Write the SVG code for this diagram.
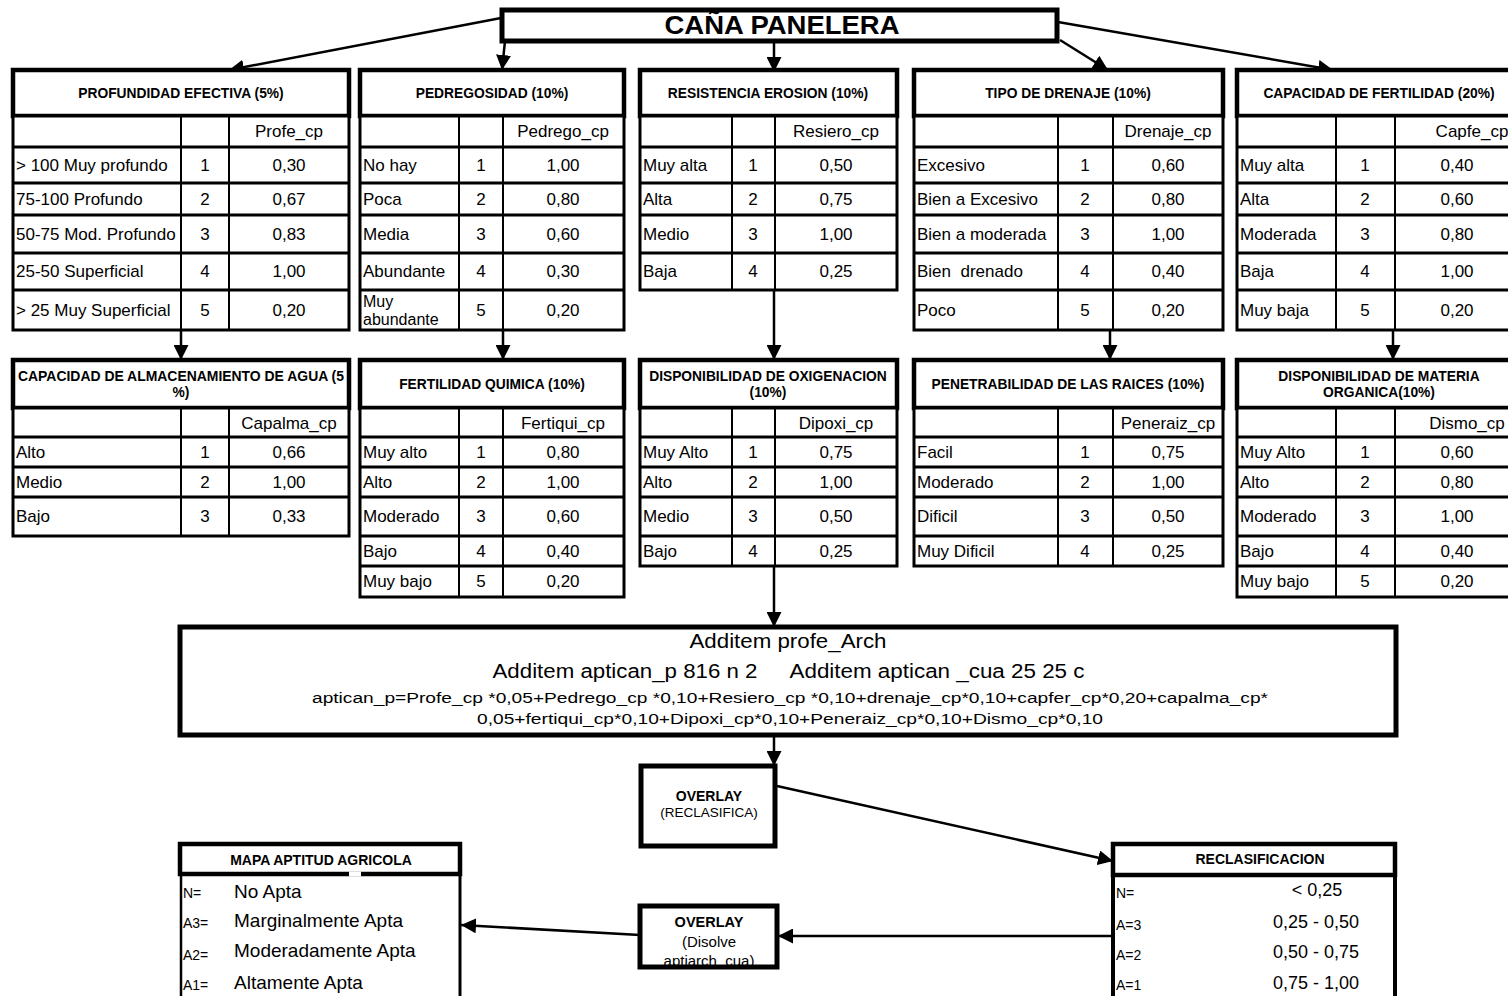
<svg xmlns="http://www.w3.org/2000/svg" width="1508" height="996" viewBox="0 0 1508 996">
<defs>
<marker id="ah" viewBox="0 0 10 10" refX="10" refY="5" markerWidth="6" markerHeight="6" markerUnits="strokeWidth" orient="auto"><path d="M0,0L10,5L0,10z" fill="#000"/></marker>
<style>
text{font-family:"Liberation Sans",Arial,sans-serif;fill:#000}
.hb{fill:#fff;stroke:#000;stroke-width:4.5}
.bd{fill:#fff;stroke:#000;stroke-width:3}
.rl{stroke:#000;stroke-width:3;fill:none}
.cl{stroke:#000;stroke-width:2;fill:none}
.h{font-size:13.8px;font-weight:bold;text-anchor:middle}
.t{font-size:17px}
.m{text-anchor:middle}
.s{font-size:14px}
.v{font-size:19px}
.r{font-size:18px;text-anchor:middle}
.conn path{stroke:#000;stroke-width:2.5;fill:none;marker-end:url(#ah)}
</style>
</defs>
<rect width="1508" height="996" fill="#fff"/>

<g id="connectors" class="conn">
<path d="M501,18L229,70"/>
<path d="M505,41L502,70"/>
<path d="M774,41L774,72"/>
<path d="M1060,40L1108,70"/>
<path d="M1058,22L1333,70"/>
<path d="M181,330L181,360"/>
<path d="M503,330L503,360"/>
<path d="M774,290L774,360"/>
<path d="M1110,330L1110,360"/>
<path d="M1393,330L1393,360"/>
<path d="M774,567L774,627"/>
<path d="M774,737L774,766"/>
<path d="M777,786L1113,861"/>
<path d="M1112,936L778,936"/>
<path d="M640,935L461,925"/>
</g>

<g id="cana-panelera">
<rect x="502" y="10" width="555" height="31" fill="#fff" stroke="#000" stroke-width="5"/>
<text x="782" y="34" font-size="25" font-weight="bold" text-anchor="middle" textLength="235" lengthAdjust="spacingAndGlyphs">CAÑA PANELERA</text>
</g>

<g id="profundidad">
<rect class="hb" x="13" y="70" width="336" height="46"/>
<rect class="bd" x="13" y="116" width="336" height="214"/>
<path class="rl" d="M13,147H349M13,183H349M13,215H349M13,253H349M13,290H349"/>
<path class="cl" d="M181,116V330M229,116V330"/>
<text class="h" x="181" y="98">PROFUNDIDAD EFECTIVA (5%)</text>
<g class="t">
<text class="m" x="289" y="137">Profe_cp</text>
<text x="16" y="171">&gt; 100 Muy profundo</text><text class="m" x="205" y="171">1</text><text class="m" x="289" y="171">0,30</text>
<text x="16" y="205">75-100 Profundo</text><text class="m" x="205" y="205">2</text><text class="m" x="289" y="205">0,67</text>
<text x="16" y="240">50-75 Mod. Profundo</text><text class="m" x="205" y="240">3</text><text class="m" x="289" y="240">0,83</text>
<text x="16" y="277">25-50 Superficial</text><text class="m" x="205" y="277">4</text><text class="m" x="289" y="277">1,00</text>
<text x="16" y="316">&gt; 25 Muy Superficial</text><text class="m" x="205" y="316">5</text><text class="m" x="289" y="316">0,20</text>
</g>
</g>

<g id="pedregosidad">
<rect class="hb" x="360" y="70" width="264" height="46"/>
<rect class="bd" x="360" y="116" width="264" height="214"/>
<path class="rl" d="M360,147H624M360,183H624M360,215H624M360,253H624M360,290H624"/>
<path class="cl" d="M459,116V330M503,116V330"/>
<text class="h" x="492" y="98">PEDREGOSIDAD (10%)</text>
<g class="t">
<text class="m" x="563" y="137">Pedrego_cp</text>
<text x="363" y="171">No hay</text><text class="m" x="481" y="171">1</text><text class="m" x="563" y="171">1,00</text>
<text x="363" y="205">Poca</text><text class="m" x="481" y="205">2</text><text class="m" x="563" y="205">0,80</text>
<text x="363" y="240">Media</text><text class="m" x="481" y="240">3</text><text class="m" x="563" y="240">0,60</text>
<text x="363" y="277">Abundante</text><text class="m" x="481" y="277">4</text><text class="m" x="563" y="277">0,30</text>
<text x="363" y="307" font-size="16">Muy</text><text x="363" y="325" font-size="16">abundante</text><text class="m" x="481" y="316">5</text><text class="m" x="563" y="316">0,20</text>
</g>
</g>

<g id="resistencia-erosion">
<rect class="hb" x="640" y="70" width="257" height="46"/>
<rect class="bd" x="640" y="116" width="257" height="174"/>
<path class="rl" d="M640,147H897M640,183H897M640,215H897M640,253H897"/>
<path class="cl" d="M732,116V290M775,116V290"/>
<text class="h" x="768" y="98">RESISTENCIA EROSION (10%)</text>
<g class="t">
<text class="m" x="836" y="137">Resiero_cp</text>
<text x="643" y="171">Muy alta</text><text class="m" x="753" y="171">1</text><text class="m" x="836" y="171">0,50</text>
<text x="643" y="205">Alta</text><text class="m" x="753" y="205">2</text><text class="m" x="836" y="205">0,75</text>
<text x="643" y="240">Medio</text><text class="m" x="753" y="240">3</text><text class="m" x="836" y="240">1,00</text>
<text x="643" y="277">Baja</text><text class="m" x="753" y="277">4</text><text class="m" x="836" y="277">0,25</text>
</g>
</g>

<g id="tipo-drenaje">
<rect class="hb" x="914" y="70" width="309" height="46"/>
<rect class="bd" x="914" y="116" width="309" height="214"/>
<path class="rl" d="M914,147H1223M914,183H1223M914,215H1223M914,253H1223M914,290H1223"/>
<path class="cl" d="M1058,116V330M1113,116V330"/>
<text class="h" x="1068" y="98">TIPO DE DRENAJE (10%)</text>
<g class="t">
<text class="m" x="1168" y="137">Drenaje_cp</text>
<text x="917" y="171">Excesivo</text><text class="m" x="1085" y="171">1</text><text class="m" x="1168" y="171">0,60</text>
<text x="917" y="205">Bien a Excesivo</text><text class="m" x="1085" y="205">2</text><text class="m" x="1168" y="205">0,80</text>
<text x="917" y="240">Bien a moderada</text><text class="m" x="1085" y="240">3</text><text class="m" x="1168" y="240">1,00</text>
<text x="917" y="277" style="white-space:pre">Bien  drenado</text><text class="m" x="1085" y="277">4</text><text class="m" x="1168" y="277">0,40</text>
<text x="917" y="316">Poco</text><text class="m" x="1085" y="316">5</text><text class="m" x="1168" y="316">0,20</text>
</g>
</g>

<g id="capacidad-fertilidad">
<rect class="hb" x="1237" y="70" width="283" height="46"/>
<rect class="bd" x="1237" y="116" width="283" height="214"/>
<path class="rl" d="M1237,147H1520M1237,183H1520M1237,215H1520M1237,253H1520M1237,290H1520"/>
<path class="cl" d="M1336,116V330M1395,116V330"/>
<text class="h" x="1379" y="98">CAPACIDAD DE FERTILIDAD (20%)</text>
<g class="t">
<text class="m" x="1472" y="137">Capfe_cp</text>
<text x="1240" y="171">Muy alta</text><text class="m" x="1365" y="171">1</text><text class="m" x="1457" y="171">0,40</text>
<text x="1240" y="205">Alta</text><text class="m" x="1365" y="205">2</text><text class="m" x="1457" y="205">0,60</text>
<text x="1240" y="240">Moderada</text><text class="m" x="1365" y="240">3</text><text class="m" x="1457" y="240">0,80</text>
<text x="1240" y="277">Baja</text><text class="m" x="1365" y="277">4</text><text class="m" x="1457" y="277">1,00</text>
<text x="1240" y="316">Muy baja</text><text class="m" x="1365" y="316">5</text><text class="m" x="1457" y="316">0,20</text>
</g>
</g>

<g id="almacenamiento-agua">
<rect class="hb" x="13" y="360" width="336" height="48"/>
<rect class="bd" x="13" y="408" width="336" height="128"/>
<path class="rl" d="M13,437H349M13,467H349M13,497H349"/>
<path class="cl" d="M181,408V536M229,408V536"/>
<text class="h" x="181" y="381" textLength="326" lengthAdjust="spacingAndGlyphs">CAPACIDAD DE ALMACENAMIENTO DE AGUA (5</text>
<text class="h" x="181" y="397">%)</text>
<g class="t">
<text class="m" x="289" y="429">Capalma_cp</text>
<text x="16" y="458">Alto</text><text class="m" x="205" y="458">1</text><text class="m" x="289" y="458">0,66</text>
<text x="16" y="488">Medio</text><text class="m" x="205" y="488">2</text><text class="m" x="289" y="488">1,00</text>
<text x="16" y="522">Bajo</text><text class="m" x="205" y="522">3</text><text class="m" x="289" y="522">0,33</text>
</g>
</g>

<g id="fertilidad-quimica">
<rect class="hb" x="360" y="360" width="264" height="48"/>
<rect class="bd" x="360" y="408" width="264" height="189"/>
<path class="rl" d="M360,437H624M360,467H624M360,497H624M360,536H624M360,566H624"/>
<path class="cl" d="M459,408V597M503,408V597"/>
<text class="h" x="492" y="389">FERTILIDAD QUIMICA (10%)</text>
<g class="t">
<text class="m" x="563" y="429">Fertiqui_cp</text>
<text x="363" y="458">Muy alto</text><text class="m" x="481" y="458">1</text><text class="m" x="563" y="458">0,80</text>
<text x="363" y="488">Alto</text><text class="m" x="481" y="488">2</text><text class="m" x="563" y="488">1,00</text>
<text x="363" y="522">Moderado</text><text class="m" x="481" y="522">3</text><text class="m" x="563" y="522">0,60</text>
<text x="363" y="557">Bajo</text><text class="m" x="481" y="557">4</text><text class="m" x="563" y="557">0,40</text>
<text x="363" y="587">Muy bajo</text><text class="m" x="481" y="587">5</text><text class="m" x="563" y="587">0,20</text>
</g>
</g>

<g id="disponibilidad-oxigenacion">
<rect class="hb" x="640" y="360" width="257" height="48"/>
<rect class="bd" x="640" y="408" width="257" height="158"/>
<path class="rl" d="M640,437H897M640,467H897M640,497H897M640,536H897"/>
<path class="cl" d="M732,408V566M775,408V566"/>
<text class="h" x="768" y="381">DISPONIBILIDAD DE OXIGENACION</text>
<text class="h" x="768" y="397">(10%)</text>
<g class="t">
<text class="m" x="836" y="429">Dipoxi_cp</text>
<text x="643" y="458">Muy Alto</text><text class="m" x="753" y="458">1</text><text class="m" x="836" y="458">0,75</text>
<text x="643" y="488">Alto</text><text class="m" x="753" y="488">2</text><text class="m" x="836" y="488">1,00</text>
<text x="643" y="522">Medio</text><text class="m" x="753" y="522">3</text><text class="m" x="836" y="522">0,50</text>
<text x="643" y="557">Bajo</text><text class="m" x="753" y="557">4</text><text class="m" x="836" y="557">0,25</text>
</g>
</g>

<g id="penetrabilidad-raices">
<rect class="hb" x="914" y="360" width="309" height="48"/>
<rect class="bd" x="914" y="408" width="309" height="158"/>
<path class="rl" d="M914,437H1223M914,467H1223M914,497H1223M914,536H1223"/>
<path class="cl" d="M1058,408V566M1113,408V566"/>
<text class="h" x="1068" y="389">PENETRABILIDAD DE LAS RAICES (10%)</text>
<g class="t">
<text class="m" x="1168" y="429">Peneraiz_cp</text>
<text x="917" y="458">Facil</text><text class="m" x="1085" y="458">1</text><text class="m" x="1168" y="458">0,75</text>
<text x="917" y="488">Moderado</text><text class="m" x="1085" y="488">2</text><text class="m" x="1168" y="488">1,00</text>
<text x="917" y="522">Dificil</text><text class="m" x="1085" y="522">3</text><text class="m" x="1168" y="522">0,50</text>
<text x="917" y="557">Muy Dificil</text><text class="m" x="1085" y="557">4</text><text class="m" x="1168" y="557">0,25</text>
</g>
</g>

<g id="materia-organica">
<rect class="hb" x="1237" y="360" width="283" height="48"/>
<rect class="bd" x="1237" y="408" width="283" height="189"/>
<path class="rl" d="M1237,437H1520M1237,467H1520M1237,497H1520M1237,536H1520M1237,566H1520"/>
<path class="cl" d="M1336,408V597M1395,408V597"/>
<text class="h" x="1379" y="381">DISPONIBILIDAD DE MATERIA</text>
<text class="h" x="1379" y="397">ORGANICA(10%)</text>
<g class="t">
<text class="m" x="1467" y="429">Dismo_cp</text>
<text x="1240" y="458">Muy Alto</text><text class="m" x="1365" y="458">1</text><text class="m" x="1457" y="458">0,60</text>
<text x="1240" y="488">Alto</text><text class="m" x="1365" y="488">2</text><text class="m" x="1457" y="488">0,80</text>
<text x="1240" y="522">Moderado</text><text class="m" x="1365" y="522">3</text><text class="m" x="1457" y="522">1,00</text>
<text x="1240" y="557">Bajo</text><text class="m" x="1365" y="557">4</text><text class="m" x="1457" y="557">0,40</text>
<text x="1240" y="587">Muy bajo</text><text class="m" x="1365" y="587">5</text><text class="m" x="1457" y="587">0,20</text>
</g>
</g>

<g id="additem">
<rect x="180" y="627" width="1216" height="108" fill="#fff" stroke="#000" stroke-width="5"/>
<text x="788" y="648" font-size="20" text-anchor="middle" textLength="197" lengthAdjust="spacingAndGlyphs">Additem profe_Arch</text>
<text x="625" y="678" font-size="20" text-anchor="middle" textLength="265" lengthAdjust="spacingAndGlyphs">Additem aptican_p 816 n 2</text>
<text x="937" y="678" font-size="20" text-anchor="middle" textLength="295" lengthAdjust="spacingAndGlyphs">Additem aptican _cua 25 25 c</text>
<text x="790" y="703" font-size="15.5" text-anchor="middle" textLength="956" lengthAdjust="spacingAndGlyphs">aptican_p=Profe_cp *0,05+Pedrego_cp *0,10+Resiero_cp *0,10+drenaje_cp*0,10+capfer_cp*0,20+capalma_cp*</text>
<text x="790" y="724" font-size="15.5" text-anchor="middle" textLength="626" lengthAdjust="spacingAndGlyphs">0,05+fertiqui_cp*0,10+Dipoxi_cp*0,10+Peneraiz_cp*0,10+Dismo_cp*0,10</text>
</g>

<g id="overlay-reclasifica">
<rect x="641" y="766" width="134" height="80" fill="#fff" stroke="#000" stroke-width="5"/>
<text x="709" y="801" font-size="14" font-weight="bold" text-anchor="middle">OVERLAY</text>
<text x="709" y="817" font-size="13.5" text-anchor="middle">(RECLASIFICA)</text>
</g>

<g id="overlay-disolve">
<rect x="640" y="906" width="137" height="61" fill="#fff"/>
<text x="709" y="927" font-size="14.5" font-weight="bold" text-anchor="middle">OVERLAY</text>
<text x="709" y="947" font-size="15" text-anchor="middle">(Disolve</text>
<text x="709" y="966" font-size="15" text-anchor="middle">aptiarch_cua)</text>
<rect x="640" y="906" width="137" height="61" fill="none" stroke="#000" stroke-width="5"/>
</g>

<g id="mapa-aptitud">
<path d="M181,874V1000" stroke="#000" stroke-width="2.5" fill="none"/>
<path d="M460,874V1000" stroke="#000" stroke-width="3" fill="none"/>
<rect x="180" y="844" width="280" height="30" fill="#fff" stroke="#000" stroke-width="4.5"/>
<path d="M349,874H361" stroke="#fff" stroke-width="5"/>
<text x="321" y="865" font-size="14" font-weight="bold" text-anchor="middle">MAPA APTITUD AGRICOLA</text>
<text class="s" x="183" y="898">N=</text><text class="v" x="234" y="898">No Apta</text>
<text class="s" x="183" y="928">A3=</text><text class="v" x="234" y="927">Marginalmente Apta</text>
<text class="s" x="183" y="960">A2=</text><text class="v" x="234" y="957">Moderadamente Apta</text>
<text class="s" x="183" y="990">A1=</text><text class="v" x="234" y="989">Altamente Apta</text>
</g>

<g id="reclasificacion">
<path d="M1113,874V1000M1395,874V1000" stroke="#000" stroke-width="4" fill="none"/>
<rect x="1113" y="844" width="282" height="31" fill="#fff" stroke="#000" stroke-width="4.5"/>
<text x="1260" y="864" font-size="14" font-weight="bold" text-anchor="middle">RECLASIFICACION</text>
<text class="s" x="1116" y="898">N=</text><text class="r" x="1317" y="896">&lt; 0,25</text>
<text class="s" x="1116" y="930">A=3</text><text class="r" x="1316" y="928">0,25 - 0,50</text>
<text class="s" x="1116" y="960">A=2</text><text class="r" x="1316" y="958">0,50 - 0,75</text>
<text class="s" x="1116" y="990">A=1</text><text class="r" x="1316" y="989">0,75 - 1,00</text>
</g>
</svg>
